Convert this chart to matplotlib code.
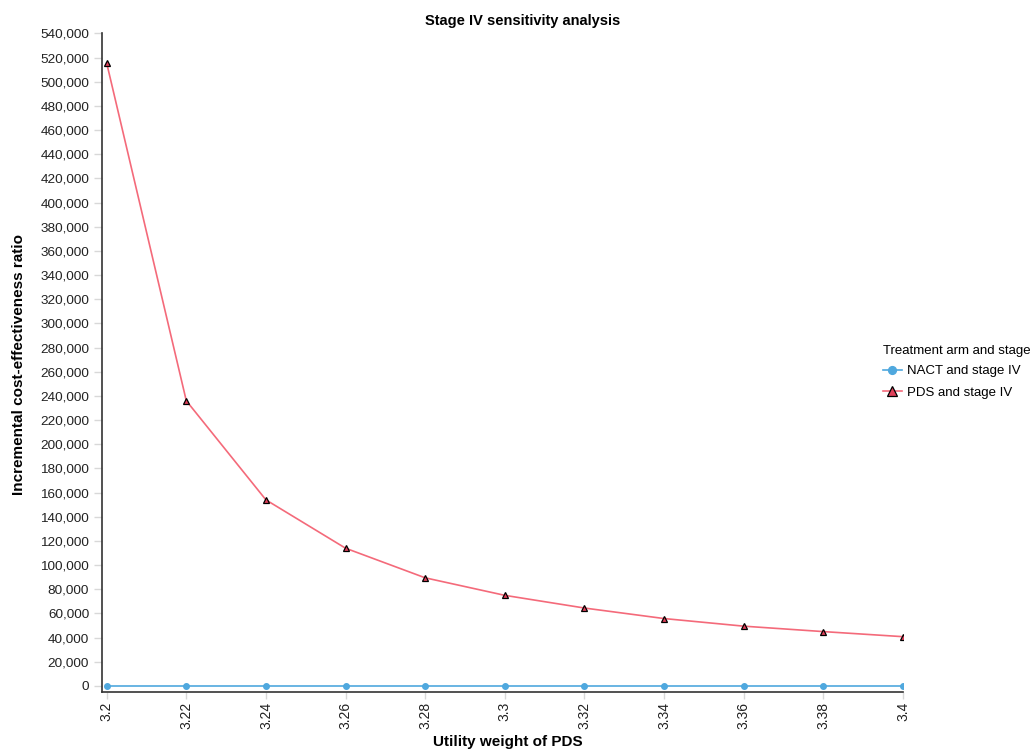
import matplotlib
matplotlib.use("Agg")
import matplotlib.pyplot as plt
from matplotlib.ticker import FuncFormatter, MultipleLocator

plt.rcParams['font.family'] = ['Liberation Sans', 'DejaVu Sans']

utility = [3.2, 3.22, 3.24, 3.26, 3.28, 3.3, 3.32, 3.34, 3.36, 3.38, 3.4]
tick_labels = ["3.2", "3.22", "3.24", "3.26", "3.28", "3.3", "3.32", "3.34", "3.36", "3.38", "3.4"]
nact_icer = [0, 0, 0, 0, 0, 0, 0, 0, 0, 0, 0]
pds_icer = [515500, 236000, 154000, 114000, 89500, 75000, 64500, 55800, 49500, 45000, 40800]

fig = plt.figure(figsize=(10.34, 7.51), dpi=100)
ax = fig.add_axes([0.0983, 0.0786, 0.7750, 0.8778])

ax.plot(utility, nact_icer, color='#4FA8DE', lw=1.2, marker='o', ms=4,
        mfc='#4FA8DE', mec='#4FA8DE', label='NACT and stage IV', zorder=3)
ax.plot(utility, pds_icer, color='#F46A7A', lw=1.2, marker='^', ms=5,
        mfc='#E0405A', mec='black', mew=0.9, label='PDS and stage IV', zorder=3)

ax.set_xlim(3.19874, 3.4)
ax.set_ylim(-4950, 540500)
ax.set_xticks(utility)
ax.set_xticklabels(tick_labels, rotation=90, fontsize=10, color='#222222')
ax.yaxis.set_major_locator(MultipleLocator(20000))
ax.yaxis.set_major_formatter(FuncFormatter(lambda v, p: f"{int(round(v)):,}"))
ax.tick_params(axis='y', labelsize=9.7, length=6, width=1, color='#d8d8d8', labelcolor='#222222', pad=3)
ax.tick_params(axis='x', length=5, width=1, color='#d8d8d8', pad=2)

for s in ['top', 'right']:
    ax.spines[s].set_visible(False)
for s in ['left', 'bottom']:
    ax.spines[s].set_color('#333333')
    ax.spines[s].set_linewidth(1.2)

fig.text(0.505, 0.972, 'Stage IV sensitivity analysis', ha='center', va='center',
         fontsize=10.5, fontweight='bold')
fig.text(0.491, 0.012, 'Utility weight of PDS', ha='center', va='center',
         fontsize=11, fontweight='bold')
fig.text(0.018, 0.515, 'Incremental cost-effectiveness ratio', ha='center', va='center',
         rotation=90, fontsize=11, fontweight='bold')

leg = fig.legend(loc='upper left', bbox_to_anchor=(0.8485, 0.548), frameon=False,
                 title='Treatment arm and stage', fontsize=9.5, title_fontsize=9.5,
                 handlelength=1.45, handletextpad=0.4, labelspacing=0.72, borderaxespad=0,
                 markerscale=1.4)
leg._legend_box.align = 'left'
leg._legend_box.sep = 6

fig.savefig('out.png', dpi=100)
